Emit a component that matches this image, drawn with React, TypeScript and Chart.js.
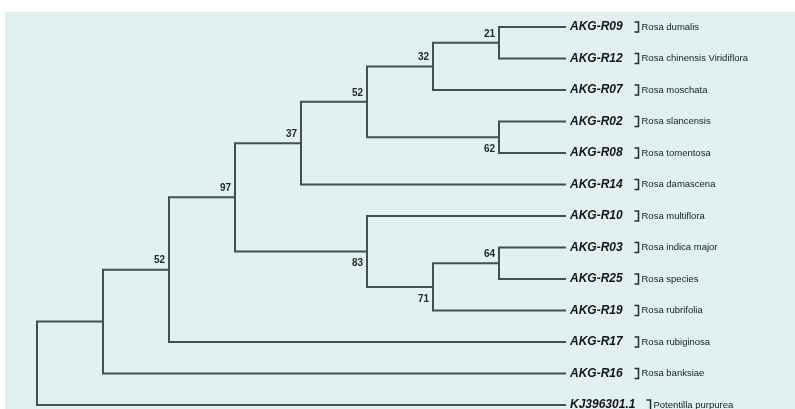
import React, { useEffect, useRef } from "react";
import { Chart, registerables } from "chart.js";

Chart.register(...registerables);

// Leaves (top to bottom)
const leafIds = [
  "AKG-R09", "AKG-R12", "AKG-R07", "AKG-R02", "AKG-R08", "AKG-R14",
  "AKG-R10", "AKG-R03", "AKG-R25", "AKG-R19", "AKG-R17", "AKG-R16", "KJ396301.1",
];
const speciesNames = [
  "Rosa dumalis", "Rosa chinensis Viridiflora", "Rosa moschata", "Rosa slancensis",
  "Rosa tomentosa", "Rosa damascena", "Rosa multiflora", "Rosa indica major",
  "Rosa species", "Rosa rubrifolia", "Rosa rubiginosa", "Rosa banksiae", "Potentilla purpurea",
];

// Internal nodes
const nodeIds = ["n21", "n32", "n62", "n52a", "n37", "n64", "n71", "n83", "n97", "n52b", "n1", "root"];
const nodeChildren = [
  ["AKG-R09", "AKG-R12"],
  ["n21", "AKG-R07"],
  ["AKG-R02", "AKG-R08"],
  ["n32", "n62"],
  ["n52a", "AKG-R14"],
  ["AKG-R03", "AKG-R25"],
  ["n64", "AKG-R19"],
  ["AKG-R10", "n71"],
  ["n37", "n83"],
  ["n97", "AKG-R17"],
  ["n52b", "AKG-R16"],
  ["n1", "KJ396301.1"],
];
const supportValues: (number | null)[] = [21, 32, 62, 52, 37, 64, 71, 83, 97, 52, null, null];

const LINE_COLOR = "#454e51";
const BG_COLOR = "#e1f0f0";

type NodeInfo = { x: number; y: number; h: number; first: boolean };

function buildLayout() {
  const info: Record<string, NodeInfo> = {};
  leafIds.forEach((id, i) => (info[id] = { x: 0, y: i, h: 0, first: false }));
  const parentOf: Record<string, { parent: string; idx: number }> = {};
  nodeIds.forEach((id, k) => nodeChildren[k].forEach((c, j) => (parentOf[c] = { parent: id, idx: j })));
  const heightOf = (id: string): number => {
    const k = nodeIds.indexOf(id);
    if (k < 0) return 0;
    return 1 + Math.max(...nodeChildren[k].map(heightOf));
  };
  const maxH = heightOf("root");
  const resolve = (id: string): NodeInfo => {
    if (info[id] && nodeIds.indexOf(id) < 0) {
      info[id].x = maxH;
      info[id].first = parentOf[id] ? parentOf[id].idx === 0 : false;
      return info[id];
    }
    if (info[id]) return info[id];
    const k = nodeIds.indexOf(id);
    const ch = nodeChildren[k].map(resolve);
    const h = heightOf(id);
    const n: NodeInfo = {
      x: maxH - h,
      y: (ch[0].y + ch[ch.length - 1].y) / 2,
      h,
      first: parentOf[id] ? parentOf[id].idx === 0 : false,
    };
    info[id] = n;
    return n;
  };
  resolve("root");
  return { info, maxH };
}

export default function App() {
  const ref = useRef<HTMLCanvasElement | null>(null);

  useEffect(() => {
    if (!ref.current) return;
    const { info, maxH } = buildLayout();

    const datasets = nodeIds.map((id, k) => {
      const n = info[id];
      const c1 = info[nodeChildren[k][0]];
      const c2 = info[nodeChildren[k][nodeChildren[k].length - 1]];
      return {
        data: [
          { x: c1.x, y: c1.y },
          { x: n.x, y: c1.y },
          { x: n.x, y: c2.y },
          { x: c2.x, y: c2.y },
        ],
        showLine: true,
        borderColor: LINE_COLOR,
        borderWidth: 2,
        pointRadius: 0,
        tension: 0,
        borderJoinStyle: "miter" as const,
        borderCapStyle: "square" as const,
        clip: false as any,
      };
    });

    const bgPlugin = {
      id: "bg",
      beforeDraw(chart: any) {
        const ctx = chart.ctx;
        ctx.save();
        ctx.fillStyle = BG_COLOR;
        ctx.fillRect(5, 12, chart.width - 5, chart.height - 12);
        ctx.restore();
      },
    };

    const labelPlugin = {
      id: "treeLabels",
      afterDatasetsDraw(chart: any) {
        const ctx = chart.ctx;
        const xs = chart.scales.x;
        const ys = chart.scales.y;
        ctx.save();
        // leaf labels
        leafIds.forEach((id, i) => {
          const x = xs.getPixelForValue(maxH) + 5;
          const y = ys.getPixelForValue(i);
          ctx.font = 'italic bold 12px "Liberation Sans", Arial, sans-serif';
          ctx.fillStyle = "#161616";
          ctx.textAlign = "left";
          ctx.textBaseline = "middle";
          ctx.fillText(id, x, y);
          const w = ctx.measureText(id).width;
          const bx = Math.round(x + w + 15) + 0.5;
          ctx.strokeStyle = "#2a2a2a";
          ctx.lineWidth = 1.5;
          ctx.beginPath();
          ctx.moveTo(bx - 4, y - 5);
          ctx.lineTo(bx, y - 5);
          ctx.lineTo(bx, y + 5);
          ctx.lineTo(bx - 4, y + 5);
          ctx.stroke();
          ctx.font = '9.5px "Liberation Sans", Arial, sans-serif';
          ctx.fillStyle = "#222";
          ctx.fillText(speciesNames[i], bx + 3, y);
        });
        // support values
        ctx.font = 'bold 10px "Liberation Sans", Arial, sans-serif';
        ctx.fillStyle = "#2a2a2a";
        ctx.textAlign = "right";
        ctx.textBaseline = "middle";
        nodeIds.forEach((id, k) => {
          const v = supportValues[k];
          if (v === null) return;
          const n = info[id];
          const x = xs.getPixelForValue(n.x) - 4;
          const y = ys.getPixelForValue(n.y) + (n.first ? -9 : 12);
          ctx.fillText(String(v), x, y);
        });
        ctx.restore();
      },
    };

    const chart = new Chart(ref.current, {
      type: "scatter",
      data: { datasets: datasets as any },
      options: {
        responsive: false,
        devicePixelRatio: 1,
        animation: false,
        layout: { padding: { left: 37, right: 230, top: 27, bottom: 4 } },
        scales: {
          x: { type: "linear", min: 0, max: maxH, display: false },
          y: { type: "linear", min: 0, max: leafIds.length - 1, reverse: true, display: false },
        },
        plugins: { legend: { display: false }, tooltip: { enabled: false } },
      },
      plugins: [bgPlugin, labelPlugin],
    });
    return () => chart.destroy();
  }, []);

  return (
    <div style={{ position: "fixed", left: 0, top: 0, width: 795, height: 409 }}>
      <canvas ref={ref} width={795} height={409} style={{ display: "block" }} />
    </div>
  );
}
